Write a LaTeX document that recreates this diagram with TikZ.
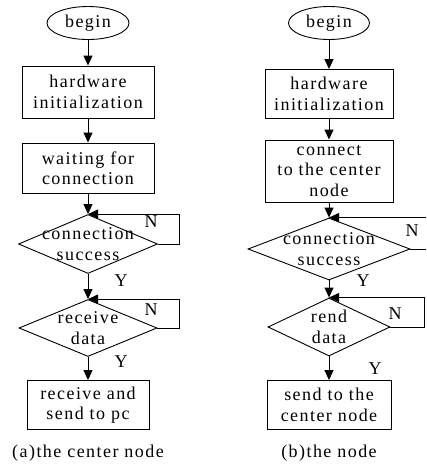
\documentclass[tikz,border=0pt]{standalone}
\usepackage{fontspec}
\setmainfont{Liberation Serif}[LetterSpace=8]
\usetikzlibrary{shapes.geometric,arrows.meta}

\begin{document}
\begin{tikzpicture}[x=1pt, y=-1pt, line width=0.9pt,
    >={Triangle[width=9pt,length=10pt]},
    every node/.style={font=\fontsize{18}{20.5}\selectfont, align=center, inner sep=0pt},
    startnode/.style={draw, ellipse, minimum width=82pt, minimum height=33pt},
    procbox/.style={draw, rectangle, minimum width=128pt, minimum height=49pt},
    decision/.style={draw, diamond}]
    \useasboundingbox (0,0) rectangle (426,466);
    \clip (0,0) rectangle (426,466);

    % (a) center node
    \node[startnode] (a0) at (88,23) {begin};
    \node[procbox, minimum width=132pt, minimum height=52pt] (a1) at (88,92) {hardware\\initialization};
    \node[procbox, minimum width=132pt, minimum height=50pt] (a2) at (88,168) {waiting for\\connection};
    \node[decision, minimum width=139pt, minimum height=59pt] (a3) at (88,244) {};
    \node (a3t) at (a3) {connection\\success};
    \node[decision, minimum width=138pt, minimum height=57pt] (a4) at (88,328) {};
    \node (a4t) at (a4) {receive\\data};
    \node[procbox, minimum width=122pt] (a5) at (88,405) {receive and\\send to pc};

    \draw[->] (a0) -- (a1);
    \draw[->] (a1) -- (a2);
    \draw[->] (a2) -- (a3.north);
    \draw[->] (a3.south) -- (a4.north);
    \draw[->] (a4.south) -- (a5);
    \draw[->] (a3.east) -- ++(21,0) |- (a3.north);
    \draw[->] (a4.east) -- ++(22,0) |- (a4.north);

    \node (an1) at (151,222) {N};
    \node (ay1) at (121,281) {Y};
    \node (an2) at (151,310) {N};
    \node (ay2) at (121,362) {Y};
    \node (capa) at (88,453) {(a)the center node};

    % (b) the node
    \node[startnode, minimum width=81pt] (b0) at (329,23) {begin};
    \node[procbox] (b1) at (329,94) {hardware\\initialization};
    \node[procbox, minimum height=62pt] (b2) at (329,171) {connect\\to the center\\node};
    \node[decision, minimum width=162pt, minimum height=62pt] (b3) at (329,249) {};
    \node (b3t) at (b3) {connection\\success};
    \node[decision, minimum width=122pt, minimum height=58pt] (b4) at (329,327) {};
    \node (b4t) at (b4) {rend\\data};
    \node[procbox, minimum width=124pt] (b5) at (329,405) {send to the\\center node};

    \draw[->] (b0) -- (b1);
    \draw[->] (b1) -- (b2);
    \draw[->] (b2) -- (b3.north);
    \draw[->] (b3.south) -- (b4.north);
    \draw[->] (b4.south) -- (b5);
    \draw[->] (b3.east) -- ++(18,0) |- (b3.north);
    \draw[->] (b4.east) -- ++(34,0) |- (b4.north);

    \node (bn1) at (412,231) {N};
    \node (by1) at (363,281) {Y};
    \node (bn2) at (395,314) {N};
    \node (by2) at (375,369) {Y};
    \node (capb) at (329,453) {(b)the node};
\end{tikzpicture}
\end{document}
